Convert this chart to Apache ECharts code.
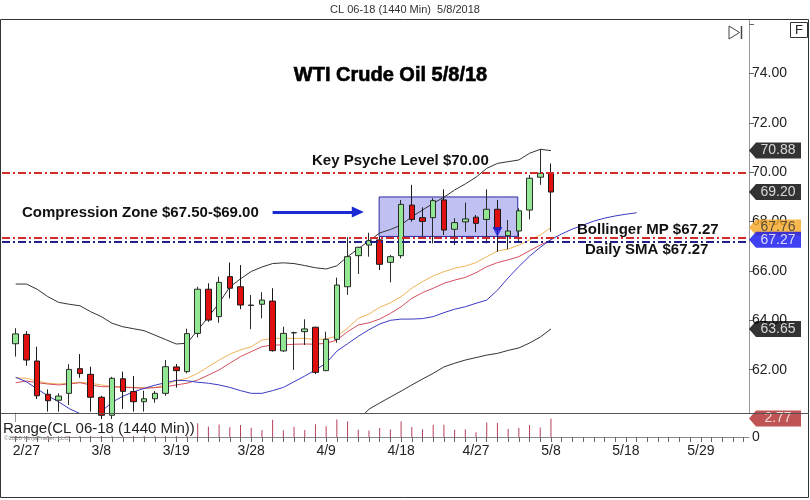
<!DOCTYPE html>
<html><head><meta charset="utf-8">
<script src="https://cdn.jsdelivr.net/npm/echarts@6/dist/echarts.min.js"></script>
<style>html,body{margin:0;padding:0;background:#fff}#c{width:810px;height:500px}</style>
</head><body><div id="c"></div>
<script>
// ---- categories (trading days + projected future slots) ----
const dates = ['2/26','2/27','2/28','3/1','3/2','3/5','3/6','3/7','3/8','3/9','3/12','3/13','3/14','3/15','3/16',
 '3/19','3/20','3/21','3/22','3/23','3/26','3/27','3/28','3/29','4/2','4/3','4/4','4/5','4/6','4/9','4/10','4/11',
 '4/12','4/13','4/16','4/17','4/18','4/19','4/20','4/23','4/24','4/25','4/26','4/27','4/30','5/1','5/2','5/3','5/4',
 '5/7','5/8','5/9','5/10','5/11','5/14','5/15','5/16','5/18','5/21','5/22','5/23','5/24','5/25','5/28','5/29',
 '5/30','5/31','6/1','6/4'];
const tickLabels = ['2/27','3/8','3/19','3/28','4/9','4/18','4/27','5/8','5/18','5/29'];
const priceTicks = [62,64,66,68,70,72,74,76];
const priceLabels = [62,64,66,68,70,72,74];

// ---- OHLC ----
const opens  = [63.05,63.43,62.35,61.00,60.76,61.04,62.04,61.81,60.88,60.15,61.63,61.11,60.70,60.82,61.04,62.11,61.92,63.47,65.26,64.15,65.77,65.36,64.60,64.65,64.78,62.76,63.49,63.54,63.72,61.96,63.23,65.36,66.62,67.05,67.26,66.35,66.62,68.67,68.16,68.16,68.88,67.69,67.99,68.18,68.09,68.50,67.43,67.62,68.47,69.80,69.98];
const highs  = [63.68,63.56,62.93,61.20,61.04,62.22,62.63,62.12,60.94,61.71,61.92,61.74,61.15,61.13,62.39,62.23,63.66,65.36,65.50,65.77,66.34,66.24,65.03,65.14,65.30,63.74,63.54,64.04,63.74,63.54,65.73,67.37,66.98,67.55,67.39,66.65,68.88,69.49,68.58,68.95,69.31,68.14,68.77,68.27,69.31,68.88,68.07,68.54,69.89,70.93,70.36];
const lows   = [62.53,62.16,60.81,60.30,60.30,60.57,61.67,60.30,60.00,60.00,60.41,60.30,60.30,60.66,60.94,61.27,61.85,63.31,63.94,63.90,64.89,64.45,63.64,64.08,62.73,62.72,61.99,63.00,61.82,61.94,63.09,65.03,65.88,66.58,66.04,65.54,66.51,68.00,67.42,67.12,67.46,67.05,67.59,67.57,67.12,66.78,66.88,67.19,68.09,69.49,67.59];
const closes = [63.45,62.39,60.94,60.74,60.93,62.01,61.84,60.88,60.15,61.65,61.12,60.70,60.82,61.04,62.12,61.96,63.46,65.26,64.01,65.54,65.30,64.62,64.62,64.82,62.77,63.47,63.50,63.65,61.89,63.23,65.43,66.58,66.96,67.23,66.27,66.58,68.70,68.09,68.01,68.85,67.66,67.96,68.11,67.93,68.50,67.69,67.62,68.44,69.76,69.96,69.20];

// ---- indicators ----
const bbUpper = [65.47,65.47,65.26,64.96,64.73,64.65,64.59,64.35,64.15,63.88,63.74,63.66,63.58,63.40,63.22,63.04,63.07,63.60,64.14,64.70,65.35,65.68,65.98,66.16,66.30,66.33,66.30,66.22,66.13,66.08,66.21,66.58,66.90,67.22,67.54,67.68,67.86,68.20,68.47,68.74,68.99,69.28,69.53,69.80,70.16,70.36,70.43,70.50,70.77,70.93,70.88];
const bbLower = [null,null,null,null,null,null,null,null,null,null,null,null,null,null,null,null,null,null,null,null,null,null,null,null,null,null,null,null,null,null,null,59.60,59.95,60.40,60.65,60.89,61.13,61.38,61.62,61.85,62.11,62.26,62.39,62.49,62.59,62.66,62.78,62.88,63.08,63.32,63.65];
const bbMid   = [61.69,61.51,61.22,60.94,60.70,60.42,60.22,60.10,60.30,60.68,60.92,61.10,61.24,61.37,61.47,61.57,61.55,61.49,61.45,61.38,61.28,61.15,61.04,61.04,61.15,61.28,61.51,61.74,61.99,62.26,62.75,63.05,63.35,63.62,63.85,64.00,64.05,64.05,64.07,64.15,64.31,64.45,64.55,64.69,64.82,65.22,65.72,66.18,66.60,66.96,67.27,67.50,67.70,67.86,68.02,68.14,68.23,68.30,68.36];
const maRed   = [61.47,61.54,61.47,61.42,61.38,61.42,61.47,61.38,61.31,61.31,61.28,61.27,61.24,61.27,61.31,61.38,61.45,61.58,61.78,61.99,62.26,62.53,62.73,62.93,63.00,63.00,63.03,63.04,63.03,63.07,63.20,63.54,63.81,63.90,64.05,64.28,64.55,64.89,65.12,65.30,65.50,65.63,65.74,65.93,66.17,66.34,66.45,66.58,66.82,67.05,67.26];
const maOrange= [61.67,61.65,61.54,61.45,61.42,61.45,61.49,61.45,61.38,61.31,61.31,61.28,61.27,61.28,61.38,61.55,61.65,61.85,62.12,62.39,62.63,62.80,62.93,63.20,63.27,63.27,63.27,63.27,63.22,63.25,63.36,63.68,64.08,64.25,64.53,64.71,64.96,65.30,65.57,65.80,65.97,66.11,66.20,66.34,66.58,66.81,66.89,67.05,67.26,67.46,67.76];

// ---- annotations (data space: bar index / price) ----
const keyLevel = 70.00, bollLevel = 67.33, smaLevel = 67.17;
const zoneX = [33.95, 46.9], zoneY = [67.4, 69.0];
const arrowX = [24.0, 31.96], arrowY = 68.39;
const markerPts = [[45, 67.58]];

const N = closes.length;
const candles = opens.map((o,i)=>[o, closes[i], lows[i], highs[i]]);
const ranges = highs.map((h,i)=> +(h-lows[i]).toFixed(2));
const YMIN = 60.243, YMAX = 76.173, XMIN = -1.28, XMAX = 68.5;
const FONT = 'Liberation Sans, Arial, sans-serif';

function tag(v, bg, fg){
  return {value:[XMAX, v], itemStyle:{color:bg}, label:{color:fg}};
}
const tagSym = 'path://M0,8 L7,0 L52,0 L52,16 L7,16 Z';

const chart = echarts.init(document.getElementById('c'), null, {renderer:'canvas'});
chart.setOption({
  animation:false,
  backgroundColor:'#fff',
  grid:[
    {left:10.35, right:61, top:20, height:393},
    {left:10.35, right:61, top:413, height:24},
    {left:2, right:61, top:20, height:393}
  ],
  xAxis:[
    {gridIndex:0, type:'category', data:dates, boundaryGap:true, show:false},
    {gridIndex:1, type:'category', data:dates, boundaryGap:true,
      axisLine:{show:true, lineStyle:{color:'#888', width:1}},
      axisTick:{show:true, alignWithLabel:true, interval:0, length:5, lineStyle:{color:'#666'}},
      axisLabel:{interval:(i,v)=>tickLabels.includes(v), fontSize:14, color:'#222', fontFamily:FONT, margin:7},
      splitLine:{show:false}},
    {gridIndex:2, type:'value', min:XMIN, max:XMAX, show:false},
    {gridIndex:1, type:'value', min:-0.5, max:68.5, show:false}
  ],
  yAxis:[
    {gridIndex:0, type:'value', min:YMIN, max:YMAX, position:'right', scale:true,
      axisLine:{show:true, lineStyle:{color:'#999'}},
      axisTick:{show:true, customValues:priceTicks, length:5, lineStyle:{color:'#666'}},
      axisLabel:{customValues:priceLabels, formatter:v=>v.toFixed(2), fontSize:14, color:'#222', fontFamily:FONT, margin:3},
      splitLine:{show:false}},
    {gridIndex:1, type:'value', min:0, max:3.6, position:'right',
      axisLine:{show:true, lineStyle:{color:'#999'}},
      axisTick:{show:true, customValues:[0], length:5, lineStyle:{color:'#666'}},
      axisLabel:{customValues:[0], formatter:v=>String(v), fontSize:14, color:'#222', fontFamily:FONT, margin:3},
      splitLine:{show:false}},
    {gridIndex:2, type:'value', min:YMIN, max:YMAX, show:false}
  ],
  series:[
    { // compression zone box
      type:'scatter', xAxisIndex:2, yAxisIndex:2, data:[], z:1, silent:true,
      markArea:{silent:true, itemStyle:{color:'rgba(150,150,235,0.6)', borderColor:'#2a2aa0', borderWidth:1},
        data:[[{coord:[zoneX[0], zoneY[1]]},{coord:[zoneX[1], zoneY[0]]}]]}
    },
    {type:'line', name:'BB Upper', xAxisIndex:0, yAxisIndex:0, data:bbUpper, symbol:'none', z:2,
      lineStyle:{color:'#333', width:1}},
    {type:'line', name:'BB Lower', xAxisIndex:0, yAxisIndex:0, data:bbLower, symbol:'none', z:2,
      lineStyle:{color:'#333', width:1}},
    {type:'line', name:'Orange MA', xAxisIndex:0, yAxisIndex:0, data:maOrange, symbol:'none', z:2,
      lineStyle:{color:'#f2b35a', width:1}},
    {type:'line', name:'Red MA', xAxisIndex:0, yAxisIndex:0, data:maRed, symbol:'none', z:2,
      lineStyle:{color:'#d4505e', width:1}},
    {type:'line', name:'BB Mid', xAxisIndex:0, yAxisIndex:0, data:bbMid, symbol:'none', z:2,
      lineStyle:{color:'#3a3ac4', width:1}},
    {type:'candlestick', xAxisIndex:0, yAxisIndex:0, data:candles, barWidth:6, z:3, clip:true,
      itemStyle:{color:'#92e892', color0:'#e01010', borderColor:'#2a2a2a', borderColor0:'#1a1a1a', borderWidth:1}},
    { // dash-dot levels, arrow, marker
      type:'scatter', xAxisIndex:2, yAxisIndex:2, data:markerPts, z:6,
      symbol:'triangle', symbolRotate:180, symbolSize:[10,10], itemStyle:{color:'#1c1cd8'},
      markLine:{silent:true, symbol:'none', label:{show:false},
        data:[
          {yAxis:keyLevel, lineStyle:{color:'#d42a2a', width:2, type:[8,3,2,3]}},
          {yAxis:bollLevel, lineStyle:{color:'#d42a2a', width:2, type:[8,3,2,3]}},
          {yAxis:smaLevel, lineStyle:{color:'#20208a', width:2, type:[8,3,2,3]}},
          [{coord:[arrowX[0], arrowY], symbol:'none'},
           {coord:[arrowX[1], arrowY], symbol:'triangle', symbolSize:[11,12], symbolRotate:-90,
            lineStyle:{color:'#1a2ad4', width:3, type:'solid'}}]
        ]}
    },
    {type:'bar', xAxisIndex:1, yAxisIndex:1, data:ranges, barWidth:1, itemStyle:{color:'#b8405a'}, z:2},
    { // value tags on price axis
      type:'scatter', xAxisIndex:2, yAxisIndex:2, z:10, clip:false, silent:true,
      symbol:tagSym, symbolSize:[52,16], symbolOffset:[26,0],
      label:{show:true, position:'inside', offset:[3,0], fontSize:14, fontFamily:FONT, formatter:p=>p.value[1].toFixed(2)},
      data:[
        tag(bbUpper[N-1], '#000', '#fff'),
        tag(closes[N-1], '#000', '#fff'),
        tag(bbLower[N-1], '#000', '#fff'),
        tag(maOrange[N-1], '#f5a623', '#333'),
        tag(bbMid[N-1], '#1010f0', '#fff')
      ]
    },
    { // range tag
      type:'scatter', xAxisIndex:3, yAxisIndex:1, z:10, clip:false, silent:true,
      symbol:tagSym, symbolSize:[52,16], symbolOffset:[26,0],
      label:{show:true, position:'inside', offset:[3,0], fontSize:14, fontFamily:FONT, color:'#fff', formatter:p=>p.value[1].toFixed(2)},
      data:[{value:[68.5, ranges[N-1]], itemStyle:{color:'#b02828'}}]
    }
  ],
  graphic:[
    {type:'rect', shape:{x:0.5, y:19.5, width:808, height:478}, style:{fill:'none', stroke:'#333', lineWidth:1}, z:50, silent:true},
    {type:'line', shape:{x1:1, y1:413.5, x2:809, y2:413.5}, style:{stroke:'#555', lineWidth:1}, z:50, silent:true},
    {type:'text', z:50, style:{x:405, y:10, text:'CL 06-18 (1440 Min)  5/8/2018', fontSize:11, fontFamily:FONT, fill:'#333', align:'center', verticalAlign:'middle'}},
    {type:'text', z:50, style:{x:390.5, y:75, text:'WTI Crude Oil 5/8/18', fontSize:20, fontWeight:'bold', fontFamily:FONT, fill:'#000', stroke:'#000', lineWidth:0.6, align:'center', verticalAlign:'middle'}},
    {type:'text', z:50, style:{x:312, y:161, text:'Key Psyche Level $70.00', fontSize:15, fontWeight:'bold', fontFamily:FONT, fill:'#111', align:'left', verticalAlign:'middle'}},
    {type:'text', z:50, style:{x:22, y:212.5, text:'Compression Zone $67.50-$69.00', fontSize:15, fontWeight:'bold', fontFamily:FONT, fill:'#111', align:'left', verticalAlign:'middle'}},
    {type:'text', z:50, style:{x:577, y:230, text:'Bollinger MP $67.27', fontSize:15, fontWeight:'bold', fontFamily:FONT, fill:'#111', align:'left', verticalAlign:'middle'}},
    {type:'text', z:50, style:{x:585, y:250, text:'Daily SMA $67.27', fontSize:15, fontWeight:'bold', fontFamily:FONT, fill:'#111', align:'left', verticalAlign:'middle'}},
    {type:'text', z:40, style:{x:3, y:429, text:'Range(CL 06-18 (1440 Min))', fontSize:15, fontFamily:FONT, fill:'#222', align:'left', verticalAlign:'middle', backgroundColor:'#fff', padding:[0,2,0,0], lineHeight:14}},
    {type:'text', z:41, style:{x:4, y:438, text:'©2018 NinjaTrader, LLC', fontSize:6, fontFamily:FONT, fill:'#888', align:'left', verticalAlign:'middle'}},
    {type:'polygon', z:50, shape:{points:[[729,26],[729,39],[739.5,32.5]]}, style:{fill:'none', stroke:'#444', lineWidth:1}},
    {type:'line', z:50, shape:{x1:741.5, y1:26, x2:741.5, y2:39}, style:{stroke:'#444', lineWidth:1.5}},
    {type:'rect', z:50, shape:{x:790.5, y:22.5, width:17, height:15}, style:{fill:'#fff', stroke:'#333', lineWidth:1}},
    {type:'text', z:51, style:{x:799, y:30.5, text:'F', fontSize:13, fontFamily:FONT, fill:'#222', align:'center', verticalAlign:'middle'}}
  ]
});
</script></body></html>
